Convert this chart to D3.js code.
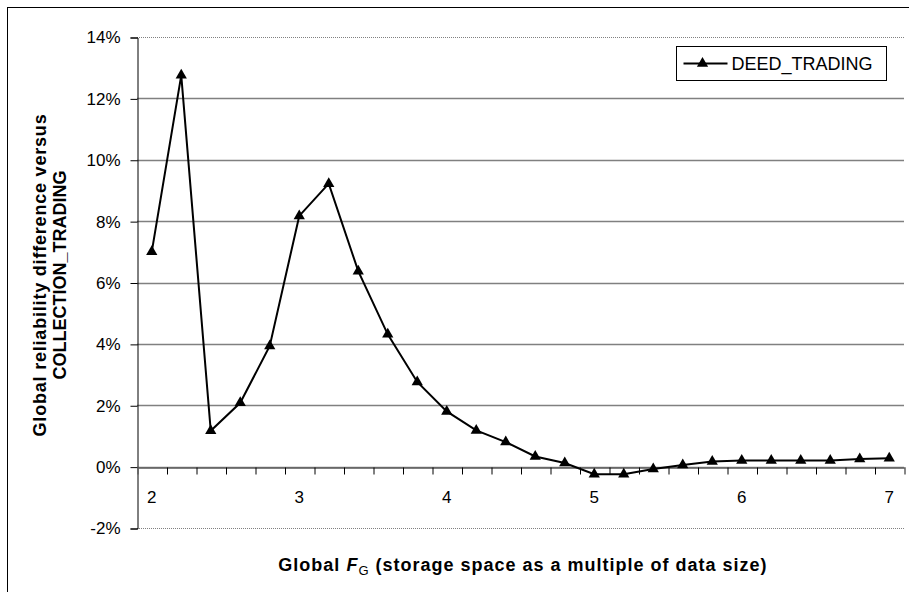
<!DOCTYPE html>
<html>
<head>
<meta charset="utf-8">
<script src="https://cdn.jsdelivr.net/npm/d3@7"></script>
<style>
  body { margin: 0; background: #fff; }
  svg text { font-family: 'Liberation Sans', Arial, sans-serif; }
</style>
</head>
<body>
<div id="container"></div>
<script>
const w = 909;
const h = 592;
const plotLeft = 137, plotRight = 904, plotTop = 37, plotBottom = 528;

const storage = [2, 2.2, 2.4, 2.6, 2.8, 3, 3.2, 3.4, 3.6, 3.8, 4, 4.2, 4.4,
  4.6, 4.8, 5, 5.2, 5.4, 5.6, 5.8, 6, 6.2, 6.4, 6.6, 6.8, 7];
const deedTrading = [7.0, 12.75, 1.17, 2.08, 3.93, 8.17, 9.22, 6.37, 4.31, 2.76,
  1.8, 1.18, 0.8, 0.33, 0.12, -0.25, -0.25, -0.08, 0.05, 0.17, 0.2, 0.2, 0.2, 0.2, 0.25, 0.27];
const yTicks = [-2, 0, 2, 4, 6, 8, 10, 12, 14];
const xLabels = [2, 3, 4, 5, 6, 7];
const seriesName = 'DEED_TRADING';

const svg = d3.select('#container')
  .append('svg')
  .attr('width', w)
  .attr('height', h);

// outer chart border
svg.append('rect')
  .attr('x', 7.5).attr('y', 7.5)
  .attr('width', w).attr('height', h)
  .attr('fill', 'none')
  .attr('stroke', 'black')
  .attr('stroke-width', 1);

const xScale = d3.scaleLinear().domain([1.9, 7.1]).range([plotLeft, plotRight]);
const yScale = d3.scaleLinear().domain([-2, 14]).range([plotBottom, plotTop]);

// gridlines
svg.append('g')
  .selectAll('line')
  .data(yTicks)
  .enter()
  .append('line')
  .attr('x1', plotLeft).attr('x2', plotRight)
  .attr('y1', d => Math.round(yScale(d)) + 0.5)
  .attr('y2', d => Math.round(yScale(d)) + 0.5)
  .attr('stroke', '#808080')
  .attr('stroke-width', d => (d === -2 || d === 14) ? 1 : 1.5)
  .attr('stroke-dasharray', d => (d === -2 || d === 14) ? '1,1' : null);

// y axis
const yAxis = d3.axisLeft(yScale)
  .tickValues(yTicks)
  .tickSize(7)
  .tickPadding(10)
  .tickFormat(d => d + '%');
svg.append('g')
  .attr('transform', `translate(${plotLeft + 0.5},0.5)`)
  .call(yAxis)
  .call(g => g.select('.domain').attr('stroke', 'black'))
  .call(g => g.selectAll('text').style('font-size', '17px').attr('fill', 'black'));

// x axis (crosses at 0%), ticks between categories
const xTickVals = d3.range(1, 26).map(i => storage[i] - 0.1);
const xAxis = d3.axisBottom(xScale)
  .tickValues(xTickVals)
  .tickSize(7)
  .tickFormat('');
svg.append('g')
  .attr('transform', `translate(0.5,${Math.round(yScale(0)) + 0.5})`)
  .call(xAxis)
  .call(g => g.select('.domain').attr('stroke', '#606060').attr('stroke-width', 1.5));

svg.append('g')
  .selectAll('text')
  .data(xLabels)
  .enter()
  .append('text')
  .attr('x', d => xScale(d))
  .attr('y', yScale(0) + 36)
  .attr('text-anchor', 'middle')
  .style('font-size', '17px')
  .text(d => d);

// series
const line = d3.line()
  .x((d, i) => xScale(storage[i]))
  .y(d => yScale(d));
svg.append('path')
  .datum(deedTrading)
  .attr('d', line)
  .attr('fill', 'none')
  .attr('stroke', 'black')
  .attr('stroke-width', 2);

const tri = d3.symbol().type(d3.symbolTriangle).size(55);
svg.append('g')
  .selectAll('path')
  .data(deedTrading)
  .enter()
  .append('path')
  .attr('d', tri)
  .attr('transform', (d, i) => `translate(${xScale(storage[i])},${yScale(d)})`)
  .attr('fill', 'black');

// legend
const legend = svg.append('g').attr('transform', 'translate(676.5,46.5)');
legend.append('rect')
  .attr('width', 210).attr('height', 34)
  .attr('fill', 'white').attr('stroke', 'black');
legend.append('line')
  .attr('x1', 7).attr('x2', 51).attr('y1', 17).attr('y2', 17)
  .attr('stroke', 'black').attr('stroke-width', 2);
legend.append('path')
  .attr('d', tri)
  .attr('transform', 'translate(26,17)')
  .attr('fill', 'black');
legend.append('text')
  .attr('x', 55).attr('y', 23.5)
  .style('font-size', '18px')
  .text(seriesName);

// axis titles
const xt = svg.append('text')
  .attr('x', 523).attr('y', 571)
  .attr('text-anchor', 'middle')
  .style('font-size', '18px')
  .style('letter-spacing', '1px')
  .style('font-weight', 'bold');
xt.append('tspan').text('Global ');
xt.append('tspan').style('font-style', 'italic').text('F');
xt.append('tspan').attr('dy', 4).style('font-size', '13px').style('font-weight', 'normal').text('G');
xt.append('tspan').attr('dy', -4).text(' (storage space as a multiple of data size)');

const yt = svg.append('text')
  .attr('transform', 'translate(46,275) rotate(-90)')
  .attr('text-anchor', 'middle')
  .style('font-size', '18px')
  .style('font-weight', 'bold');
yt.append('tspan').attr('x', 0).attr('dy', 0).style('letter-spacing', '0.8px').text('Global reliability difference versus');
yt.append('tspan').attr('x', 0).attr('dy', 20).text('COLLECTION_TRADING');
</script>
</body>
</html>
